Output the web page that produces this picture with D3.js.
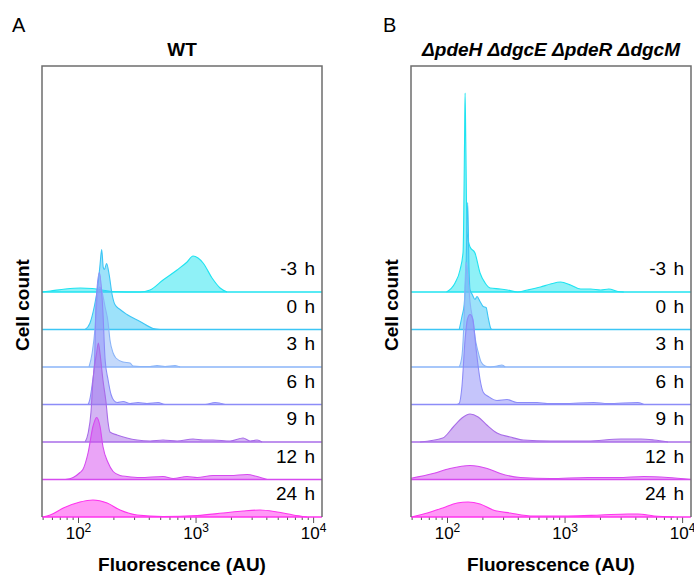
<!DOCTYPE html>
<html><head><meta charset="utf-8">
<script src="https://cdn.jsdelivr.net/npm/d3@7"></script>
<style>
body{margin:0;background:#fff}
svg{display:block}
text{font-family:"Liberation Sans",Arial,Helvetica,sans-serif;fill:#000}
</style>
</head><body>
<svg id="chart" width="694" height="576"></svg>
<script>
// ---- data ----
const timeLabels = ["-3 h", "0 h", "3 h", "6 h", "9 h", "12 h", "24 h"];
const seriesColors = ["#1fe3f0", "#3cc6f5", "#8ab4f8", "#8c8cf8", "#a86ce8", "#d64af0", "#ff33ee"];
const majorTicks = [100, 1000, 10000];
const minorTicks = [50, 60, 70, 80, 90, 200, 300, 400, 500, 600, 700, 800, 900,
  2000, 3000, 4000, 5000, 6000, 7000, 8000, 9000];
const xDomain = [49.4, 11900];

// WT panel: [fluorescence (AU), relative cell count]
const wtM3 = [[49,0],[58,1],[78,3],[105,4],[132,3.5],[160,2],[199,0.5],[337,0],[410,2],[529,12],[696,22],[847,30],[952,36],[1050,34],[1159,29],[1381,14],[1617,4],[1854,0]];
const wt0 = [[115,0],[126,6],[137,22],[148,45],[154,65],[159,80],[164,62],[168,60],[175,66],[184,55],[195,35],[206,25],[228,20],[261,15],[337,8],[435,1],[499,0]];
const wt3 = [[124,0],[132,14],[140,40],[145,65],[152,80],[160,75],[170,60],[180,45],[187,27],[199,14],[210,9],[242,5],[277,4],[294,1],[337,0.5],[410,0.5],[470,1.5],[550,0.5],[669,1.5],[738,0]];
const wt6 = [[122,0],[126,5],[132,20],[138,40],[142,98],[152,132],[162,98],[170,45],[180,25],[191,10],[202,4],[215,2],[242,3],[277,1],[324,2],[386,1],[480,2],[550,0],[1205,0],[1466,2],[1783,0]];
const wt9 = [[115,0],[122,9],[129,30],[134,62],[144,89],[149,99],[154,88],[163,62],[173,40],[180,20],[187,10],[215,7],[261,4],[318,2],[410,1],[529,2],[696,1],[952,3],[1159,2],[1409,2],[1967,1],[2536,4],[2911,1],[3337,2],[3681,0]];
const wt12 = [[78,0],[91,2],[104,7],[110,10],[122,27],[134,53],[144,62],[154,53],[163,33],[180,17],[199,8],[228,4],[261,3],[337,2],[529,3],[644,1],[847,3],[1030,2],[1409,4],[1967,4],[2742,5],[3337,3],[4060,0]];
const wt24 = [[50,0],[58,2],[75,9],[104,15],[134,17],[177,14],[228,7],[318,2],[529,0.5],[1030,1.5],[1714,4],[2536,6],[3539,7],[4940,5],[6761,2],[8890,0]];

// quadruple mutant panel
const mutM3 = [[99,0],[117,9],[129,22],[137,40],[141,150],[142.5,199],[144.5,150],[148,60],[157,45],[173,39],[191,19],[211,9],[233,4],[284,3],[326,2],[396,0],[483,2],[624,5],[759,8],[925,10],[1125,7],[1371,3],[1668,3],[2032,2],[2377,3],[2838,0.5],[3192,0]];
const mut0 = [[127,0],[134,13],[140,25],[145,60],[150,127],[154,60],[157,40],[164,35],[173,30],[180,33],[191,28],[203,23],[215,22],[224,12],[236,1],[242,0]];
const mut3 = [[127,0],[134,11],[140,50],[145,105],[151,90],[157,65],[167,45],[173,30],[184,15],[195,5],[211,1],[233,0],[267,1],[293,2],[313,0]];
const mut6 = [[122,0],[127,1],[134,18],[142.5,65],[149,85],[157,90],[166,85],[177,55],[191,25],[204,12],[225,8],[266,4],[324,5],[394,2],[480,2],[584,2],[711,1],[980,1],[1770,2],[2333,1],[4207,2],[4732,0]];
const mut9 = [[59,0],[92,4],[113,15],[134,24],[157,28],[184,25],[218,17],[266,9],[345,5],[446,2],[759,1],[1573,1],[3010,3],[4467,3],[5768,2],[7590,0]];
const mut12 = [[48,1],[76,6],[106,11],[157,14],[220,11],[284,6],[421,2],[759,1],[1573,2],[2838,2],[4732,3],[7590,2],[11900,0]];
const mut24 = [[50,0],[68,4],[92,9],[122,14],[151,15],[191,13],[247,7],[345,4],[543,1],[1061,1],[2032,2],[3455,3],[4207,3],[5768,1],[8550,0]];

const wtSeries = [wtM3, wt0, wt3, wt6, wt9, wt12, wt24];
const mutSeries = [mutM3, mut0, mut3, mut6, mut9, mut12, mut24];

// ---- layout ----
const plotTop = 66, plotBottom = 517, plotW = 280;
const panels = [
  {letter: "A", letterX: 12, left: 42, series: wtSeries,
   title: [{t: "WT", italic: false}]},
  {letter: "B", letterX: 383, left: 411, series: mutSeries,
   title: [{t: "Δ", italic: true}, {t: "pdeH ", italic: true}, {t: "Δ", italic: true}, {t: "dgcE ", italic: true},
           {t: "Δ", italic: true}, {t: "pdeR ", italic: true}, {t: "Δ", italic: true}, {t: "dgcM", italic: true}]}
];

const svg = d3.select("#chart");
const defs = svg.append("defs");
const rowScale = d3.scalePoint().domain(timeLabels).range([292, 517]);
const hScale = d3.scaleLinear().domain([0, 200]).range([0, 200]);

panels.forEach((p, pi) => {
  const g = svg.append("g").attr("transform", `translate(${p.left},0)`);
  const x = d3.scaleLog().domain(xDomain).range([0, plotW]);

  // axis ticks
  const minorAxis = d3.axisBottom(x).tickValues(minorTicks).tickSize(3).tickFormat("");
  const majorAxis = d3.axisBottom(x).tickValues(majorTicks).tickSize(6).tickPadding(4)
    .tickFormat(d => "10");
  const gMinor = g.append("g").attr("transform", `translate(0,${plotBottom})`).call(minorAxis);
  const gMajor = g.append("g").attr("transform", `translate(0,${plotBottom})`).call(majorAxis);
  [gMinor, gMajor].forEach(a => {
    a.select(".domain").remove();
    a.selectAll(".tick line").attr("stroke", "#555").attr("stroke-width", 1);
  });
  gMajor.selectAll(".tick text")
    .attr("font-size", 17).attr("y", null).attr("dy", null)
    .attr("transform", "translate(0,22)")
    .attr("font-family", '"Liberation Sans",Arial,sans-serif')
    .each(function(d) {
      const t = d3.select(this);
      t.append("tspan").attr("font-size", 12).attr("dy", -7).text(Math.round(Math.log10(d)));
    });

  // clip
  const cid = "clip" + pi;
  defs.append("clipPath").attr("id", cid).append("rect")
    .attr("x", 0).attr("y", plotTop).attr("width", plotW).attr("height", plotBottom - plotTop + 1);
  const plot = g.append("g").attr("clip-path", `url(#${cid})`);

  p.series.forEach((s, i) => {
    const base = rowScale(timeLabels[i]);
    const area = d3.area().x(d => x(d[0])).y0(base).y1(d => base - hScale(d[1])).curve(d3.curveMonotoneX);
    const line = area.lineY1();
    plot.append("path").attr("d", area(s)).attr("fill", seriesColors[i]).attr("fill-opacity", 0.5);
    plot.append("path").attr("d", line(s)).attr("fill", "none")
      .attr("stroke", seriesColors[i]).attr("stroke-width", 1.1).attr("stroke-linejoin", "round");
    plot.append("line").attr("x1", 0).attr("x2", plotW).attr("y1", base).attr("y2", base)
      .attr("stroke", seriesColors[i]).attr("stroke-width", 1.6);
  });

  // frame
  g.append("path").attr("d", `M0,${plotBottom} V${plotTop} H${plotW} V${plotBottom}`)
    .attr("fill", "none").attr("stroke", "#6e6e6e").attr("stroke-width", 1.5);

  // row labels
  timeLabels.forEach((lab, i) => {
    g.append("text").attr("x", plotW - 7).attr("y", rowScale(lab) - 17)
      .attr("text-anchor", "end").attr("font-size", 19).style("word-spacing", "2px").text(lab);
  });

  // x label
  g.append("text").attr("x", plotW / 2).attr("y", 571).attr("text-anchor", "middle")
    .attr("font-size", 19).attr("font-weight", "bold").text("Fluorescence (AU)");

  // y label
  g.append("text").attr("transform", `translate(-13,305) rotate(-90)`).attr("text-anchor", "middle")
    .attr("font-size", 19).attr("font-weight", "bold").text("Cell count");

  // title
  const tt = g.append("text").attr("x", plotW / 2).attr("y", 56).attr("text-anchor", "middle")
    .attr("font-size", 19).attr("font-weight", "bold");
  p.title.forEach(part => tt.append("tspan").attr("font-style", part.italic ? "italic" : "normal").text(part.t));

  // panel letter
  svg.append("text").attr("x", p.letterX).attr("y", 32).attr("font-size", 20).text(p.letter);
});
</script>
</body></html>
